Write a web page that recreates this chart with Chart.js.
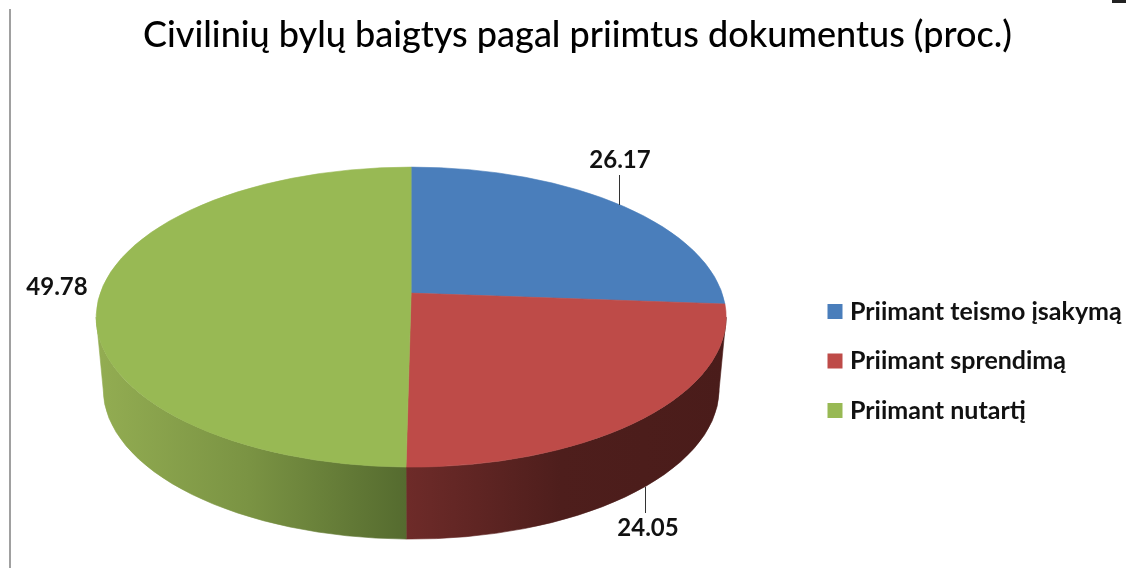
<!DOCTYPE html>
<html lang="lt">
<head>
  <meta charset="UTF-8">
  <title>Civilinių bylų baigtys</title>
  <script src="https://cdn.jsdelivr.net/npm/chart.js"></script>
  <style>
    html, body { margin: 0; padding: 0; background: #fff; }
    #wrap { width: 1126px; height: 568px; position: relative; overflow: hidden; }
    #pie { filter: blur(0.5px); }
  </style>
</head>
<body>
  <div id="wrap"><canvas id="pie"></canvas></div>
  <script>
    // Data
    const categories = ['Priimant teismo įsakymą', 'Priimant sprendimą', 'Priimant nutartį'];
    const values = [26.17, 24.05, 49.78];
    const colors = ['#4a7ebb', '#be4b48', '#98b954'];
    const titleText = 'Civilinių bylų baigtys pagal priimtus dokumentus (proc.)';

    // Look of the tilted pie
    const tilt = { rx: 315, ry: 150, drop: 24, depth: 72, baseRx: 308, k: -0.16, a: 146.16, b: 311 };
    const wallStops = [
      [[96, '#93ad52'], [250, '#7a9343'], [406, '#556b2f']],
      [[406, '#6e2b29'], [560, '#4e1e1c'], [726, '#4a1c1a']]
    ];
    const labelSpots = [
      { x: 620, y: 160, line: [619.5, 175, 205] },
      { x: 648, y: 528, line: [645.5, 487, 513] },
      { x: 57, y: 287 }
    ];

    // slice angle from the library -> angle on the drawn ellipse
    function ellipseAngle(angle) {
      const th = angle + Math.PI / 2;
      const u = Math.sin(th), v = -Math.cos(th);
      const d = 1 + tilt.k * v;
      const x = tilt.b * u / d, y = tilt.a * v / d;
      return Math.atan2((y - tilt.drop) / tilt.ry, x / tilt.rx);
    }

    const pie3d = {
      id: 'pie3d',
      afterLayout(chart) {
        // the legend and title do not sit where the layout puts them
        const lg = chart.legend, w = lg.width, h = lg.height;
        lg.left = 808; lg.right = lg.left + w;
        lg.top = 361 - h / 2; lg.bottom = lg.top + h;
        lg.adjustHitBoxes();
        const mid = (chart.titleBlock.left + chart.titleBlock.right) / 2;
        chart.titleBlock.left += 577.5 - mid;
        chart.titleBlock.right += 577.5 - mid;
      },
      beforeDatasetDraw(chart, args) {
        const ctx = chart.ctx;
        const arcs = args.meta.data;
        const cx = arcs[0].x, cy = arcs[0].y, ey = cy + tilt.drop;

        // side wall first
        arcs.forEach((arc, i) => {
          let t1 = ellipseAngle(arc.startAngle), t2 = ellipseAngle(arc.endAngle);
          if (t1 < -Math.PI / 2 - 1e-6) t1 += Math.PI * 2;
          if (t2 <= t1) t2 += Math.PI * 2;
          const from = Math.max(t1, 0), to = Math.min(t2, Math.PI);
          if (to <= from) return;
          const stops = wallStops[i === 2 ? 0 : 1];
          const g = ctx.createLinearGradient(stops[0][0], 0, stops[2][0], 0);
          stops.forEach(s => g.addColorStop((s[0] - stops[0][0]) / (stops[2][0] - stops[0][0]), s[1]));
          ctx.beginPath();
          ctx.ellipse(cx, ey, tilt.rx, tilt.ry, 0, from, to);
          ctx.ellipse(cx, ey + tilt.depth, tilt.baseRx, tilt.ry, 0, to, from, true);
          ctx.closePath();
          ctx.fillStyle = g;
          ctx.strokeStyle = g;
          ctx.lineWidth = 0.6;
          ctx.fill();
          ctx.stroke();
        });

        // top face
        arcs.forEach((arc, i) => {
          ctx.beginPath();
          ctx.moveTo(cx, cy);
          ctx.ellipse(cx, ey, tilt.rx, tilt.ry, 0, ellipseAngle(arc.startAngle), ellipseAngle(arc.endAngle));
          ctx.closePath();
          ctx.fillStyle = colors[i];
          ctx.strokeStyle = colors[i];
          ctx.lineWidth = 0.6;
          ctx.fill();
          ctx.stroke();
        });

        // data labels and leader lines
        ctx.font = 'bold 24px Lato';
        ctx.fillStyle = '#111';
        ctx.textAlign = 'center';
        ctx.textBaseline = 'middle';
        values.forEach((val, i) => {
          const s = labelSpots[i];
          ctx.fillText(val.toFixed(2), s.x, s.y);
          if (s.line) {
            ctx.beginPath();
            ctx.moveTo(s.line[0], s.line[1]);
            ctx.lineTo(s.line[0], s.line[2]);
            ctx.strokeStyle = '#333';
            ctx.lineWidth = 1;
            ctx.stroke();
          }
        });
        return false;
      },
      afterDraw(chart) {
        // frame edge left over from the screenshot
        const ctx = chart.ctx;
        ctx.fillStyle = '#a0a0a0';
        ctx.fillRect(9, 9, 2, 559);
        ctx.fillStyle = '#222';
        ctx.fillRect(1112, 0, 14, 3);
      }
    };

    new Chart(document.getElementById('pie'), {
      type: 'pie',
      data: {
        labels: categories,
        datasets: [{ data: values, backgroundColor: colors, borderWidth: 0 }]
      },
      options: {
        responsive: true,
        maintainAspectRatio: false,
        animation: false,
        layout: { padding: { left: 20, bottom: 39 } },
        plugins: {
          tooltip: { enabled: false },
          title: {
            display: true,
            text: titleText,
            color: '#000',
            font: { family: '"Lato Medium", Lato', size: 36, weight: 'normal', lineHeight: 1.2 },
            padding: { top: 14, bottom: 0 }
          },
          legend: {
            position: 'right',
            labels: {
              color: '#111',
              font: { family: 'Lato', size: 25, weight: 'bold' },
              boxWidth: 5,
              boxHeight: 5,
              padding: 24.5,
              generateLabels(chart) {
                return Chart.overrides.pie.plugins.legend.labels.generateLabels(chart).map(item => {
                  item.strokeStyle = item.fillStyle;
                  item.lineWidth = 10;
                  return item;
                });
              }
            }
          }
        }
      },
      plugins: [pie3d]
    });
  </script>
</body>
</html>
